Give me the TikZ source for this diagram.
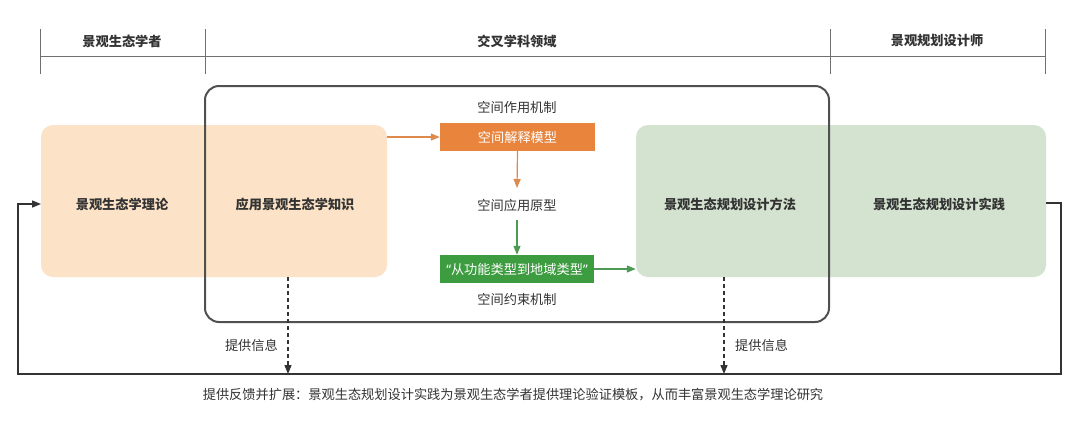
\documentclass[tikz,border=0pt]{standalone}
\usepackage{fontspec}
\setmainfont{Noto Sans CJK SC}
\newfontfamily\qfont{Noto Sans}
\usetikzlibrary{arrows.meta}
\definecolor{peach}{HTML}{FCE2C6}
\definecolor{sage}{HTML}{D4E3CF}
\definecolor{orng}{HTML}{E8843C}
\definecolor{grn}{HTML}{3D9C40}
\definecolor{orngline}{HTML}{DD8A4C}
\definecolor{grnline}{HTML}{4D9A54}
\definecolor{frame}{HTML}{505050}
\definecolor{txt}{HTML}{333333}
\definecolor{hdr}{HTML}{707070}
\tikzset{
  every node/.style={font=\fontsize{13.2}{15}\selectfont, text=txt, inner sep=0pt},
  hdrtext/.style={font=\fontsize{13.2}{15}\selectfont\bfseries},
  boxlabel/.style={font=\fontsize{13.2}{15}\selectfont\bfseries},
  bigbox/.style={rounded corners=12pt, minimum height=152pt},
  smallbox/.style={minimum height=28pt, text=white},
  hdrline/.style={draw=hdr, line width=0.9pt},
  arr/.style={-{Triangle[length=9pt,width=7pt]}},
}
\begin{document}
\begin{tikzpicture}[x=1pt,y=-1pt]
\useasboundingbox[fill=white] (0,0) rectangle (1080,424);
% header
\coordinate (t1) at (40,29);
\coordinate (t1b) at (40,74);
\coordinate (t2) at (205,29);
\coordinate (t2b) at (205,74);
\coordinate (t3) at (830,29);
\coordinate (t3b) at (830,74);
\coordinate (t4) at (1045,29);
\coordinate (t4b) at (1045,74);
\coordinate (hl) at (40,56);
\coordinate (hr) at (1045,56);
\draw[hdrline] (t1) -- (t1b);
\draw[hdrline] (t2) -- (t2b);
\draw[hdrline] (t3) -- (t3b);
\draw[hdrline] (t4) -- (t4b);
\draw[hdrline] (hl) -- (hr);
\node[hdrtext] (h1) at (122,41) {景观生态学者};
\node[hdrtext] (h2) at (517,41) {交叉学科领域};
\node[hdrtext] (h3) at (937,41) {景观规划设计师};
% big boxes
\node[bigbox, fill=peach, minimum width=346pt] (ob) at (214,201) {};
\node[bigbox, fill=sage, minimum width=410pt] (gb) at (841,201) {};
\node[boxlabel] (theory) at (122,204) {景观生态学理论};
\node[boxlabel] (know) at (295,204) {应用景观生态学知识};
\node[boxlabel] (method) at (730,204) {景观生态规划设计方法};
\node[boxlabel] (practice) at (939,204) {景观生态规划设计实践};
% frame
\draw[frame, line width=2pt, rounded corners=14pt] (205,86) rectangle (829,322);
% middle column
\node (mech1) at (517,107) {空间作用机制};
\node[smallbox, fill=orng, minimum width=155pt] (model) at (517.5,137) {空间解释模型};
\node (proto) at (517,205) {空间应用原型};
\node[smallbox, fill=grn, minimum width=154pt] (type) at (517,269) {{\qfont “}从功能类型到地域类型{\qfont ”}};
\node (mech2) at (517,299) {空间约束机制};
% arrows
\draw[orngline, line width=1.2pt, arr] (ob.east |- model) -- (model.west);
\draw[orngline, line width=1.2pt, arr] (model.south) -- (517,188);
\draw[grnline, line width=1.2pt, arr] (517,220) -- (type.north);
\draw[grnline, line width=1.2pt, arr] (type.east) -- (gb.west |- type);
% dashed info arrows
\coordinate (d1s) at (288,277);
\coordinate (d1e) at (288,374);
\coordinate (d2s) at (724,277);
\coordinate (d2e) at (724,374);
\draw[txt, line width=1.3pt, dash pattern=on 4pt off 3pt, arr] (d1s) -- (d1e);
\draw[txt, line width=1.3pt, dash pattern=on 4pt off 3pt, arr] (d2s) -- (d2e);
\node[anchor=east] (info1) at (278,345) {提供信息};
\node[anchor=west] (info2) at (735,345) {提供信息};
% feedback loop
\coordinate (fa) at (1046,203);
\coordinate (fb) at (1061,203);
\coordinate (fc) at (1061,374);
\coordinate (fd) at (18,374);
\coordinate (fe) at (18,204);
\coordinate (ff) at (41,204);
\draw[txt, line width=1.4pt, arr] (fa) -- (fb) -- (fc) -- (fd) -- (fe) -- (ff);
\node (note) at (513,395) {提供反馈并扩展：景观生态规划设计实践为景观生态学者提供理论验证模板，从而丰富景观生态学理论研究};
\end{tikzpicture}
\end{document}
